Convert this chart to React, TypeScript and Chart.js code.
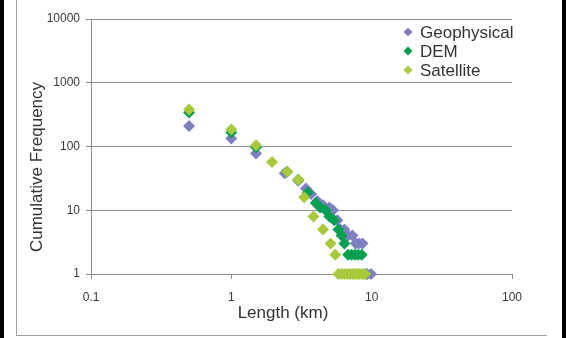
import React, { useEffect, useRef } from 'react';
import { Chart, registerables } from 'chart.js';

Chart.register(...registerables);

const seriesNames = ['Geophysical', 'DEM', 'Satellite'];
const seriesColors = ['#7f80c2', '#07a050', '#a7c93c'];

const geoLength = [0.5, 1, 1.5, 2.4, 3.0, 3.4, 3.7, 4.1, 4.5, 5.0, 5.3, 5.7, 6.0, 6.4, 6.8, 7.3, 7.7, 8.1, 8.6, 9.3, 9.9];
const geoFreq = [210, 133, 78, 38, 29, 22, 18, 14, 12, 11, 10, 7, 5, 5, 4, 4, 3, 3, 3, 1, 1];

const demLength = [0.5, 1, 1.5, 2.5, 3.0, 3.5, 4.0, 4.3, 4.7, 5.0, 5.4, 5.8, 6.1, 6.4, 6.8, 7.2, 7.6, 8.0, 8.5, 9.0];
const demFreq = [340, 166, 97, 40, 30, 19, 13, 11, 10, 8, 7, 5, 4, 3, 2, 2, 2, 2, 2, 1];

const satLength = [0.5, 1, 1.5, 1.95, 2.5, 3.0, 3.3, 3.85, 4.5, 5.1, 5.5, 5.8, 6.1, 6.4, 6.7, 7.0, 7.3, 7.6, 7.9, 8.2, 8.6, 9.0];
const satFreq = [380, 185, 105, 57, 40, 30, 16, 8, 5, 3, 2, 1, 1, 1, 1, 1, 1, 1, 1, 1, 1, 1];

const xTicks = [0.1, 1, 10, 100];
const yTicks = [1, 10, 100, 1000, 10000];
const xTitle = 'Length (km)';
const yTitle = 'Cumulative Frequency';

const FONT = '"Liberation Sans", Arial, sans-serif';

const toPoints = (xs: number[], ys: number[]) => xs.map((x, i) => ({ x, y: ys[i] }));

const overlayPlugin = {
  id: 'overlay',
  afterDraw(chart: any) {
    const { ctx, chartArea } = chart;
    ctx.save();
    ctx.fillStyle = '#333333';
    ctx.font = `17px ${FONT}`;
    ctx.textAlign = 'center';
    ctx.textBaseline = 'middle';
    // x axis title
    ctx.fillText(xTitle, chartArea.left + 192, chartArea.bottom + 39);
    // y axis title
    ctx.save();
    ctx.translate(chartArea.left - 54, chartArea.top + 148);
    ctx.rotate(-Math.PI / 2);
    ctx.fillText(yTitle, 0, 0);
    ctx.restore();
    // legend
    ctx.textAlign = 'left';
    chart.data.datasets.forEach((ds: any, i: number) => {
      const cx = chartArea.right - 104;
      const cy = chartArea.top + 13 + i * 19;
      const r = 4.5;
      ctx.fillStyle = ds.backgroundColor;
      ctx.beginPath();
      ctx.moveTo(cx, cy - r);
      ctx.lineTo(cx + r, cy);
      ctx.lineTo(cx, cy + r);
      ctx.lineTo(cx - r, cy);
      ctx.closePath();
      ctx.fill();
      ctx.fillStyle = '#333333';
      ctx.fillText(ds.label, cx + 12, cy + 1);
    });
    ctx.restore();
  },
};

export default function App() {
  const ref = useRef<HTMLCanvasElement | null>(null);

  useEffect(() => {
    if (!ref.current) return;
    const datasets = [
      { label: seriesNames[0], data: toPoints(geoLength, geoFreq), order: 2 },
      { label: seriesNames[1], data: toPoints(demLength, demFreq), order: 1 },
      { label: seriesNames[2], data: toPoints(satLength, satFreq), order: 0 },
    ].map((d, i) => ({
      ...d,
      backgroundColor: seriesColors[i],
      borderColor: seriesColors[i],
      borderWidth: 0,
      pointStyle: 'rectRot',
      pointRadius: 6,
      showLine: false,
      clip: false,
    }));

    const chart = new Chart(ref.current, {
      type: 'scatter',
      data: { datasets },
      plugins: [overlayPlugin],
      options: {
        animation: false,
        responsive: false,
        maintainAspectRatio: false,
        layout: { padding: { left: 0, top: 19, right: 60, bottom: 0 } },
        plugins: {
          legend: { display: false },
          tooltip: { enabled: false },
        },
        scales: {
          x: {
            type: 'logarithmic',
            min: 0.1,
            max: 100,
            afterBuildTicks: (s: any) => {
              s.ticks = xTicks.map((v) => ({ value: v }));
            },
            afterFit: (s: any) => {
              s.height = 64;
            },
            ticks: {
              callback: (v: any) => String(v),
              color: '#3a3a3a',
              font: { size: 12, family: FONT },
              padding: 11,
              maxRotation: 0,
              autoSkip: false,
            },
            grid: {
              drawOnChartArea: false,
              drawTicks: true,
              tickLength: 5,
              color: '#8c8c8c',
            },
            border: { display: true, color: '#8c8c8c', width: 1 },
          },
          y: {
            type: 'logarithmic',
            min: 1,
            max: 10000,
            afterBuildTicks: (s: any) => {
              s.ticks = yTicks.map((v) => ({ value: v }));
            },
            afterFit: (s: any) => {
              s.width = 91;
            },
            ticks: {
              callback: (v: any) => String(v),
              color: '#3a3a3a',
              font: { size: 12, family: FONT },
              padding: 6,
              autoSkip: false,
            },
            grid: {
              drawOnChartArea: true,
              drawTicks: true,
              tickLength: 5,
              color: '#8c8c8c',
            },
            border: { display: true, color: '#8c8c8c', width: 1 },
          },
        },
      } as any,
    });
    return () => chart.destroy();
  }, []);

  return (
    <div style={{ position: 'fixed', left: 0, top: 0, width: 572, height: 338, background: '#ffffff', overflow: 'hidden' }}>
      <div style={{ position: 'absolute', left: 0, top: 0, width: 4, height: 338, background: '#000000' }} />
      <div style={{ position: 'absolute', left: 562, top: 0, width: 4, height: 338, background: '#000000' }} />
      <div style={{ position: 'absolute', left: 16, top: 0, width: 1, height: 336, background: '#a0a0a0' }} />
      <div style={{ position: 'absolute', left: 16, top: 335, width: 531, height: 1, background: '#a0a0a0' }} />
      <canvas ref={ref} width={572} height={338} style={{ position: 'absolute', left: 0, top: 0, width: 572, height: 338 }} />
    </div>
  );
}
